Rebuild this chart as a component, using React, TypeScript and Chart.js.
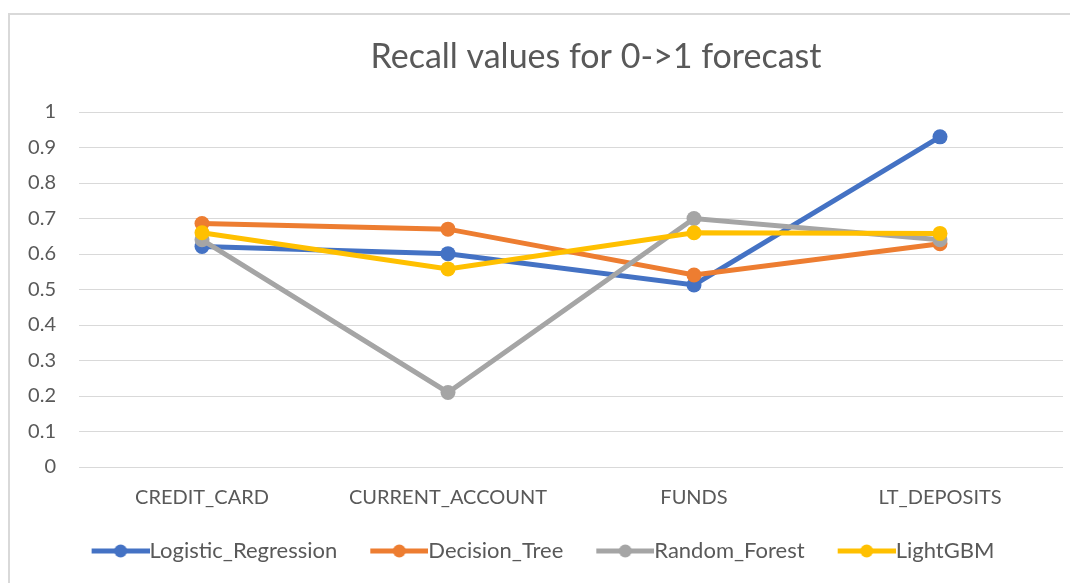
import React, { useEffect, useRef } from "react";
import { Chart, registerables } from "chart.js";

Chart.register(...registerables);

const categories = ["CREDIT_CARD", "CURRENT_ACCOUNT", "FUNDS", "LT_DEPOSITS"];
const seriesNames = ["Logistic_Regression", "Decision_Tree", "Random_Forest", "LightGBM"];
const logisticRegression = [0.621, 0.601, 0.513, 0.93];
const decisionTree = [0.686, 0.67, 0.541, 0.629];
const randomForest = [0.64, 0.21, 0.7, 0.64];
const lightGBM = [0.66, 0.558, 0.66, 0.658];
const seriesColors = ["#4472C4", "#ED7D31", "#A5A5A5", "#FFC000"];
const yTicks = [0, 0.1, 0.2, 0.3, 0.4, 0.5, 0.6, 0.7, 0.8, 0.9, 1];
const titleText = "Recall values for 0->1 forecast";

const FONT = "Lato, 'Open Sans', sans-serif";
const TEXT = "#595959";
const LEG_FONT = 22;
const LEG_BOX = 60;

function legendMarker(color: string): HTMLCanvasElement {
  const W = LEG_BOX + LEG_FONT;
  const c = document.createElement("canvas");
  c.width = W;
  c.height = 16;
  const ctx = c.getContext("2d")!;
  const x0 = W - 58;
  const x1 = W;
  ctx.strokeStyle = color;
  ctx.lineWidth = 5;
  ctx.beginPath();
  ctx.moveTo(x0, 8);
  ctx.lineTo(x1, 8);
  ctx.stroke();
  ctx.fillStyle = color;
  ctx.beginPath();
  ctx.arc((x0 + x1) / 2, 8, 6.5, 0, Math.PI * 2);
  ctx.fill();
  return c;
}

// Title drawn off-centre, as in the reference
const offsetTitle = {
  id: "offsetTitle",
  afterDraw(chart: any) {
    const ctx = chart.ctx;
    ctx.save();
    ctx.font = `normal 34px ${FONT}`;
    ctx.fillStyle = TEXT;
    ctx.textAlign = "center";
    ctx.textBaseline = "middle";
    ctx.fillText(titleText, 586, 42);
    ctx.restore();
  },
};

export default function App() {
  const ref = useRef<HTMLCanvasElement>(null);
  useEffect(() => {
    const values = [logisticRegression, decisionTree, randomForest, lightGBM];
    const markers = seriesColors.map(legendMarker);
    const chart = new Chart(ref.current!, {
      type: "line",
      data: {
        labels: categories,
        datasets: seriesNames.map((name, i) => ({
          label: name,
          data: values[i],
          borderColor: seriesColors[i],
          backgroundColor: seriesColors[i],
          borderWidth: 5,
          pointRadius: 7.5,
          pointHoverRadius: 7.5,
          pointBorderWidth: 0,
          pointBackgroundColor: seriesColors[i],
          tension: 0,
          order: seriesNames.length - i,
        })),
      },
      plugins: [offsetTitle],
      options: {
        animation: false,
        responsive: false,
        layout: { padding: { left: 0, right: 15, top: 97, bottom: 11 } },
        plugins: {
          title: { display: false },
          legend: {
            position: "bottom",
            labels: {
              color: TEXT,
              font: { family: FONT, size: LEG_FONT },
              usePointStyle: true,
              pointStyleWidth: LEG_BOX,
              padding: 20,
              boxHeight: 16,
              sort: (a: any, b: any) => a.datasetIndex - b.datasetIndex,
              generateLabels: (chart: any) =>
                seriesNames.map((name, i) => ({
                  text: name,
                  datasetIndex: i,
                  fillStyle: seriesColors[i],
                  strokeStyle: seriesColors[i],
                  lineWidth: 0,
                  pointStyle: markers[i],
                  hidden: !chart.isDatasetVisible(i),
                  fontColor: TEXT,
                })),
            },
          },
          tooltip: { enabled: false },
        },
        scales: {
          x: {
            grid: { display: false, drawTicks: false },
            border: { display: false },
            offset: true,
            afterFit: (scale: any) => {
              scale.height = 53;
            },
            ticks: {
              color: TEXT,
              font: { family: FONT, size: 20 },
              padding: 19,
              maxRotation: 0,
            },
          },
          y: {
            min: 0,
            max: 1,
            afterBuildTicks: (scale: any) => {
              scale.ticks = yTicks.map((v) => ({ value: v }));
            },
            afterFit: (scale: any) => {
              scale.width = 69;
            },
            grid: { color: "#D9D9D9", lineWidth: 1, drawTicks: false },
            border: { display: false },
            ticks: {
              color: TEXT,
              font: { family: FONT, size: 20 },
              padding: 23,
              callback: (v: any) => String(Number(Number(v).toFixed(1))),
            },
          },
        },
      },
    });
    return () => chart.destroy();
  }, []);
  return (
    <div
      style={{
        marginTop: 5,
        width: 1070,
        height: 570,
        borderTop: "2px solid #D9D9D9",
        borderLeft: "2px solid #D9D9D9",
        boxSizing: "border-box",
        overflow: "hidden",
        background: "#fff",
      }}
    >
      <canvas ref={ref} width={1068} height={568} style={{ display: "block" }} />
    </div>
  );
}
